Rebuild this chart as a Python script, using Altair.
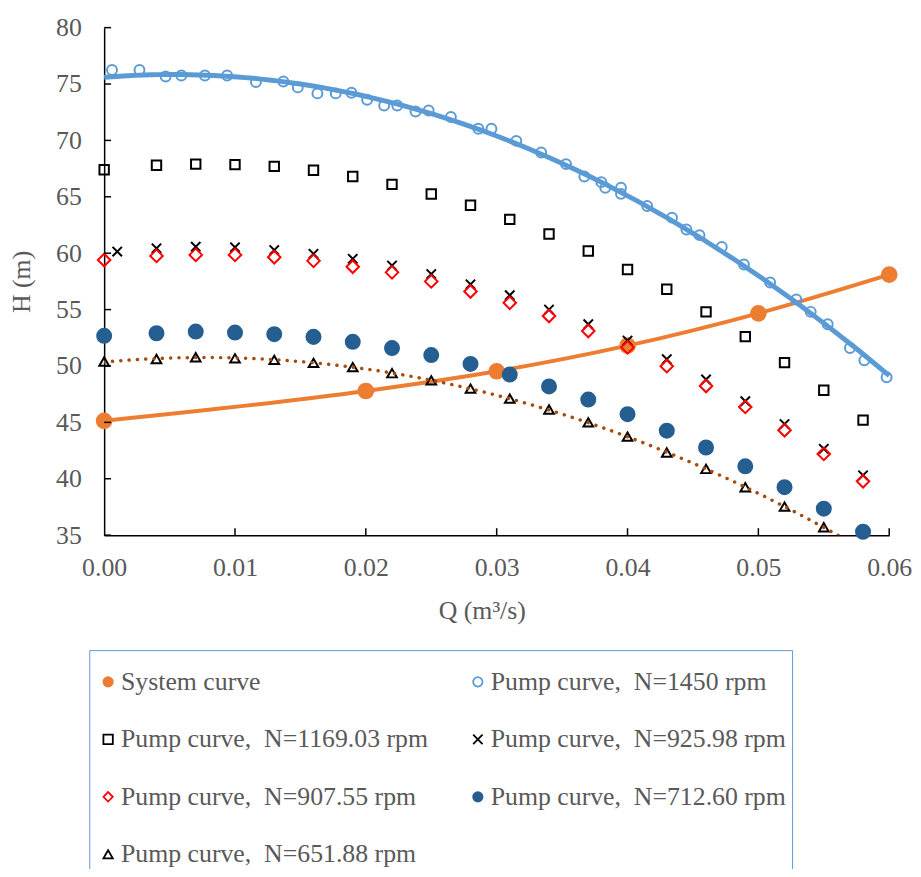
import altair as alt
import pandas as pd

# ---------------- data ----------------
SP = ",\u00a0 "  # comma followed by a wide gap, as in the reference legend
series_names = [
    "System curve",
    "Pump curve" + SP + "N=1450 rpm",
    "Pump curve" + SP + "N=1169.03 rpm",
    "Pump curve" + SP + "N=925.98 rpm",
    "Pump curve" + SP + "N=907.55 rpm",
    "Pump curve" + SP + "N=712.60 rpm",
    "Pump curve" + SP + "N=651.88 rpm",
]

sys_Q = [0.0, 0.02, 0.03, 0.04, 0.05, 0.06]
sys_H = [45.14, 47.78, 49.53, 51.8, 54.67, 58.1]

p1450_Q = [0.0006, 0.0027, 0.0047, 0.0059, 0.0077, 0.0094, 0.0116, 0.0137, 0.0148, 0.0163,
           0.0177, 0.0189, 0.0201, 0.0214, 0.0224, 0.0238, 0.0248, 0.0265, 0.0286, 0.0296,
           0.0315, 0.0334, 0.0353, 0.0367, 0.0380, 0.0383, 0.0395, 0.0395, 0.0415, 0.0434,
           0.0445, 0.0455, 0.0472, 0.0489, 0.0509, 0.0529, 0.0540, 0.0553, 0.0570, 0.0581,
           0.0598]
p1450_H = [76.25, 76.25, 75.67, 75.76, 75.76, 75.76, 75.17, 75.23, 74.7, 74.17,
           74.17, 74.23, 73.6, 73.1, 73.1, 72.56, 72.65, 72.07, 71.04, 71.04,
           69.96, 68.93, 67.9, 66.8, 66.3, 65.8, 65.8, 65.26, 64.18, 63.15,
           62.1, 61.6, 60.55, 59.0, 57.4, 55.9, 54.8, 53.7, 51.6, 50.5,
           49.0]

q_grid = [0.0, 0.004, 0.007, 0.010, 0.013, 0.016, 0.019, 0.022, 0.025, 0.028,
          0.031, 0.034, 0.037, 0.040, 0.043, 0.046, 0.049, 0.052, 0.055, 0.058]
q_grid_x = [0.001, 0.004, 0.007, 0.010, 0.013, 0.016, 0.019, 0.022, 0.025, 0.028,
            0.031, 0.034, 0.037, 0.040, 0.043, 0.046, 0.049, 0.052, 0.055, 0.058]

p1169_H = [67.4, 67.8, 67.9, 67.85, 67.7, 67.35, 66.8, 66.1, 65.25, 64.25,
           63.0, 61.7, 60.2, 58.55, 56.8, 54.8, 52.6, 50.3, 47.85, 45.2]
p925_H = [60.14, 60.43, 60.58, 60.52, 60.28, 59.94, 59.5, 58.9, 58.15, 57.24,
          56.27, 55.0, 53.7, 52.25, 50.6, 48.8, 46.87, 44.85, 42.65, 40.3]
p907_H = [59.4, 59.76, 59.85, 59.85, 59.64, 59.32, 58.8, 58.3, 57.5, 56.6,
          55.6, 54.43, 53.1, 51.65, 49.98, 48.22, 46.37, 44.3, 42.2, 39.78]
p712_H = [52.67, 52.9, 53.05, 52.96, 52.82, 52.58, 52.14, 51.59, 50.97, 50.18,
          49.24, 48.19, 47.02, 45.73, 44.26, 42.77, 41.1, 39.25, 37.35, 35.3]
p651_Q = q_grid[:19]
p651_H = [50.4, 50.62, 50.77, 50.68, 50.54, 50.27, 49.9, 49.36, 48.72, 47.99,
          47.11, 46.14, 45.0, 43.74, 42.33, 40.87, 39.25, 37.53, 35.7]

x_ticks = [0.0, 0.01, 0.02, 0.03, 0.04, 0.05, 0.06]
y_ticks = [35, 40, 45, 50, 55, 60, 65, 70, 75, 80]

# ---------------- styles ----------------
stroke_of = dict(zip(series_names, ["#ED7D31", "#5B9BD5", "#000000", "#000000", "#FF0000", "#255E91", "#000000"]))
fill_of = dict(zip(series_names, ["#ED7D31", "transparent", "transparent", "transparent", "transparent", "#255E91", "transparent"]))
shape_of = dict(zip(series_names, ["circle", "circle", "square", "M-1,-1L1,1M-1,1L1,-1", "diamond", "circle", "triangle-up"]))
size_of = dict(zip(series_names, [220, 100, 90, 90, 160, 200, 95]))

# legend fills columns top-to-bottom: this order gives rows
# (System, 1450) (1169.03, 925.98) (907.55, 712.60) (651.88)
legend_order = [series_names[i] for i in [0, 2, 4, 6, 1, 3, 5]]

FONT = "Liberation Serif"
TXT = "#595959"

def frame(name, qs, hs):
    return pd.DataFrame({"series": name, "Q": qs, "H": hs})

sys_df = frame(series_names[0], sys_Q, sys_H)
d1450 = frame(series_names[1], p1450_Q, p1450_H)
d651 = frame(series_names[6], p651_Q, p651_H)
pts = pd.concat([
    sys_df,
    d1450,
    frame(series_names[2], q_grid, p1169_H),
    frame(series_names[3], q_grid_x, p925_H),
    frame(series_names[4], q_grid, p907_H),
    frame(series_names[5], q_grid, p712_H),
    d651,
], ignore_index=True)

xs = alt.Scale(domain=[0, 0.06], nice=False, zero=False)
ys = alt.Scale(domain=[35, 80], nice=False, zero=False)

x_axis = alt.Axis(values=x_ticks, format=".2f", title="Q (m³/s)", ticks=False, tickSize=0,
                  labelPadding=41, labelBaseline="alphabetic", labelFlush=False,
                  titleX=381, titleY=84, titleBaseline="alphabetic", titleAlign="center",
                  titleAnchor="start")
y_axis = alt.Axis(values=y_ticks, title="H (m)", ticks=False, tickSize=0, labelPadding=23,
                  titleX=-75, titleY=256, titleBaseline="alphabetic", titleAlign="center",
                  titleAnchor="start", titleAngle=270)

X = alt.X("Q:Q", scale=xs, axis=x_axis)
Y = alt.Y("H:Q", scale=ys, axis=y_axis)

# system curve line
sys_line = alt.Chart(sys_df).mark_line(
    color="#ED7D31", strokeWidth=4, interpolate="monotone"
).encode(x=X, y=Y)

# trendline 1450 (polynomial fit computed by Vega-Lite)
trend1450 = alt.Chart(d1450).transform_regression(
    "Q", "H", method="poly", order=2, extent=[0, 0.06]
).mark_line(color="#5B9BD5", strokeWidth=5).encode(x=X, y=Y)

# dotted trendline 651.88
trend651 = alt.Chart(d651).transform_regression(
    "Q", "H", method="poly", order=2, extent=[0, 0.06]
).mark_line(color="#A64B0E", strokeWidth=3.5, strokeDash=[0.1, 8.3], strokeCap="round",
            clip=True).encode(x=X, y=Y)

legend = alt.Legend(
    title=" ", titleFontSize=9, titlePadding=4,
    orient="none", legendX=-15, legendY=628, columns=2, columnPadding=37,
    gridAlign="all", rowPadding=32, padding=6, strokeColor="#5B9BD5",
    labelFont=FONT, labelFontSize=26, labelColor=TXT, labelOffset=0,
    symbolSize=90, symbolStrokeWidth=1.8, labelLimit=0, fillColor="white",
)

shape_enc = alt.Shape("series:N", scale=alt.Scale(domain=legend_order, range=[shape_of[s] for s in legend_order]), legend=legend)
stroke_enc = alt.Stroke("series:N", scale=alt.Scale(domain=legend_order, range=[stroke_of[s] for s in legend_order]), legend=legend)
fill_enc = alt.Fill("series:N", scale=alt.Scale(domain=legend_order, range=[fill_of[s] for s in legend_order]), legend=legend)

point_layers = []
for name in series_names:
    point_layers.append(
        alt.Chart(pts).transform_filter(alt.datum.series == name)
        .mark_point(opacity=1, strokeWidth=2, size=size_of[name])
        .encode(x=X, y=Y, shape=shape_enc, stroke=stroke_enc, fill=fill_enc)
    )

# inward tick marks (drawn from tick values through the same scales)
yt = pd.DataFrame({"H": y_ticks})
xt = pd.DataFrame({"Q": x_ticks[1:]})
ytick_layer = alt.Chart(yt).mark_rule(color="black", strokeWidth=1.5).encode(
    y=Y, x=alt.value(0), x2=alt.value(7))
xtick_layer = alt.Chart(xt).mark_rule(color="black", strokeWidth=1.5).encode(
    x=X, y=alt.value(512), y2=alt.value(505))

chart = alt.layer(
    sys_line, *point_layers, trend1450, trend651, ytick_layer, xtick_layer
).properties(
    width=792, height=512,
    autosize=alt.AutoSizeParams(type="none"),
    padding={"left": 97, "top": 16, "right": 24, "bottom": 333},
).configure_view(stroke=None).configure_axis(
    grid=False, domainColor="black", domainWidth=1.5,
    labelFont=FONT, labelFontSize=26, labelColor=TXT,
    titleFont=FONT, titleFontSize=26, titleColor=TXT, titleFontWeight="normal",
)

chart.save("out.html", embed_options={"renderer": "svg", "actions": False})
